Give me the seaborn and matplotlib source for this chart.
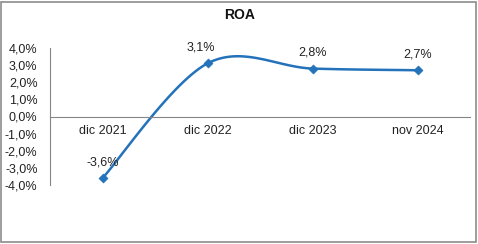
import numpy as np
import pandas as pd
import matplotlib
matplotlib.use("Agg")
import matplotlib.pyplot as plt
import seaborn as sns
from matplotlib.ticker import FuncFormatter

categories = ["dic 2021", "dic 2022", "dic 2023", "nov 2024"]
roa = [-3.6, 3.1, 2.8, 2.7]
labels = ["-3,6%", "3,1%", "2,8%", "2,7%"]
yticks = [-4, -3, -2, -1, 0, 1, 2, 3, 4]

sns.set_style("white")
plt.rcParams['font.family'] = ['Liberation Sans', 'DejaVu Sans']

color = "#2372BA"
axcol = "#868686"

fig = plt.figure(figsize=(4.78, 2.44), dpi=100)
ax = fig.add_axes([50/478, 1-185/244, 420/478, 137/244])

# Smoothed line (Excel-like Catmull-Rom Bezier) through the data points
xs = np.arange(len(roa), dtype=float)
ys = np.array(roa, dtype=float)
P = np.column_stack([xs, ys])
curve = []
n = len(P)
for i in range(n - 1):
    p0 = P[i - 1] if i > 0 else P[i]
    p1 = P[i]
    p2 = P[i + 1]
    p3 = P[i + 2] if i + 2 < n else P[i + 1]
    c1 = p1 + (p2 - p0) / 6
    c2 = p2 - (p3 - p1) / 6
    t = np.linspace(0, 1, 40)[:, None]
    seg = (1 - t) ** 3 * p1 + 3 * (1 - t) ** 2 * t * c1 + 3 * (1 - t) * t ** 2 * c2 + t ** 3 * p2
    curve.append(seg if i == 0 else seg[1:])
curve = np.vstack(curve)
line_df = pd.DataFrame({"x": curve[:, 0], "y": curve[:, 1]})
pts_df = pd.DataFrame({"x": xs, "y": ys})

sns.lineplot(data=line_df, x="x", y="y", ax=ax, color=color, lw=1.8, sort=False, estimator=None)
sns.scatterplot(data=pts_df, x="x", y="y", ax=ax, color=color, marker="D", s=22, edgecolor=color, zorder=3)

label_dx = [0, -5, 0, 0]
for xi, yi, lab, dx in zip(xs, ys, labels, label_dx):
    ax.annotate(lab, (xi, yi), xytext=(dx, 7), textcoords="offset points",
                ha="center", va="bottom", fontsize=9, color="#222222")

ax.set_xlim(-0.5, 3.5)
ax.set_ylim(-4, 4)
ax.set_yticks(yticks)
ax.yaxis.set_major_formatter(FuncFormatter(lambda v, p: f"{v:.1f}%".replace(".", ",")))
ax.set_xticks(xs)
ax.set_xticklabels(categories)
ax.set_xticks(np.arange(-0.5, 3.6, 1.0), minor=True)
ax.tick_params(axis="x", which="major", length=0, pad=6, labelsize=9, colors="#222222")
ax.tick_params(axis="x", which="minor", length=4, direction="out", color=axcol, width=0.8)
ax.tick_params(axis="y", length=4, direction="out", color=axcol, width=0.8, labelsize=9, labelcolor="#222222", pad=5)
for lbl in ax.get_xticklabels():
    lbl.set_color("#222222")

ax.spines["bottom"].set_position(("data", 0))
for s in ["top", "right"]:
    ax.spines[s].set_visible(False)
for s in ["left", "bottom"]:
    ax.spines[s].set_color(axcol)
    ax.spines[s].set_linewidth(0.8)
ax.set_xlabel("")
ax.set_ylabel("")

fig.text(240/478, 1-15/244, "ROA", ha="center", va="center", fontsize=10, fontweight="bold", color="#111111")

border = plt.Rectangle((1/478, 2/244), 475/478, 240/244, transform=fig.transFigure,
                       fill=False, edgecolor="#8c8c8c", lw=1.2)
fig.add_artist(border)

fig.savefig("out.png", dpi=100)
